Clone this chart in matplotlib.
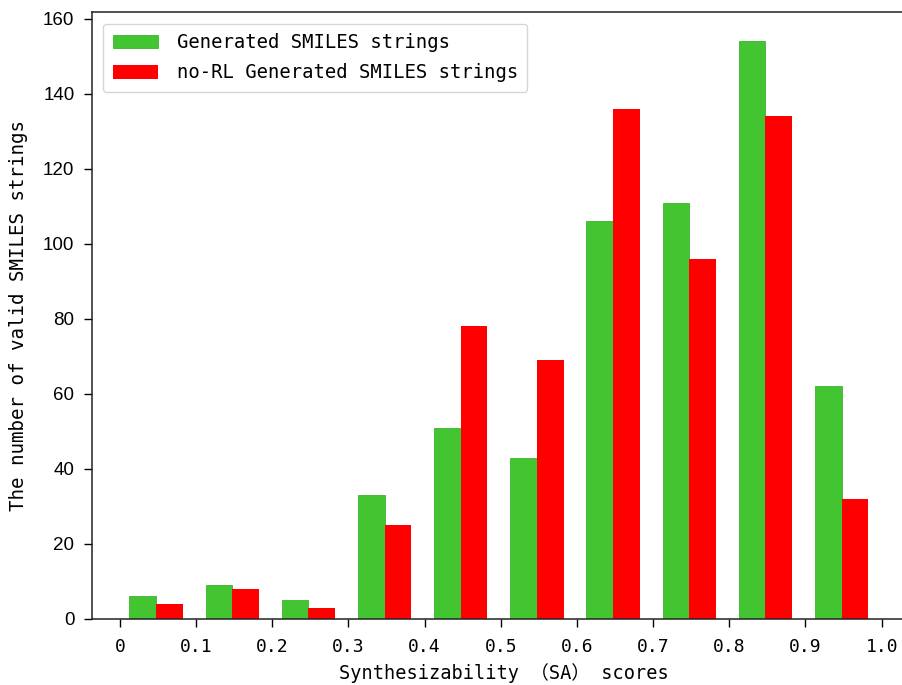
import numpy as np
import matplotlib.pyplot as plt

# SA score bins and counts per bin
bin_starts = np.round(np.arange(0, 1.0, 0.1), 1)
rl_counts = [6, 9, 5, 33, 51, 43, 106, 111, 154, 62]
norl_counts = [4, 8, 3, 25, 78, 69, 136, 96, 134, 32]
series_names = ["Generated SMILES strings", "no-RL Generated SMILES strings"]
tick_vals = np.round(np.arange(0, 1.01, 0.1), 1)
tick_labels = ["0", "0.1", "0.2", "0.3", "0.4", "0.5", "0.6", "0.7", "0.8", "0.9", "1.0"]

mono = ["DejaVu Sans Mono", "Noto Sans CJK SC"]
bar_w = 0.035

fig = plt.figure(figsize=(9.03, 6.85), dpi=100)
# right edge runs past the canvas, so the right spine is cut off
ax = fig.add_axes([0.1016, 0.0964, 0.9127, 0.8856])

ax.bar(bin_starts + 0.0125, rl_counts, width=bar_w, align="edge",
       color="#43c532", edgecolor="#3cb32d", linewidth=0.6, label=series_names[0])
ax.bar(bin_starts + 0.0125 + bar_w, norl_counts, width=bar_w, align="edge",
       color="#ff0000", label=series_names[1])
ax.set_xlim(-0.037, 1.045)

ax.set_xticks(tick_vals)
ax.set_xticklabels(tick_labels, family=mono, fontsize=13)
for lbl in ax.get_yticklabels():
    lbl.set_family("Liberation Sans")
ax.tick_params(axis="y", labelsize=13.5, pad=7)
ax.tick_params(axis="x", pad=8)
ax.tick_params(length=5.5, width=1.0)
for s in ax.spines.values():
    s.set_linewidth(1.1)
    s.set_color("#222222")
ax.spines["right"].set_visible(False)

ax.set_xlabel("Synthesizability （SA） scores", family=mono, fontsize=13.4, labelpad=5)
ax.set_ylabel("The number of valid SMILES strings", family=mono, fontsize=13.8, labelpad=11)

ax.legend(loc="upper left", prop={"family": mono, "size": 13.6},
          handlelength=2.4, handleheight=0.75, borderpad=0.5, labelspacing=0.6,
          handletextpad=1.0, borderaxespad=0.6)

fig.savefig("out.png", dpi=100)
